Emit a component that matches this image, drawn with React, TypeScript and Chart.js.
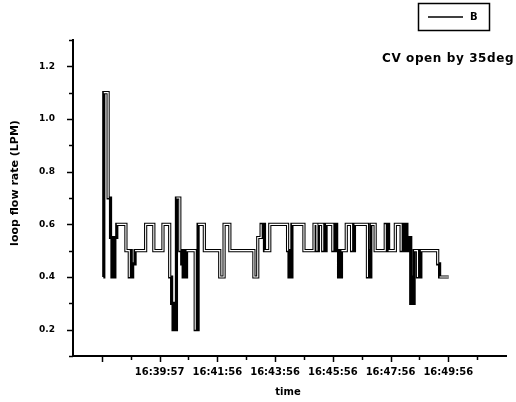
import React, { useEffect, useRef } from "react";
import { Chart, registerables } from "chart.js";

Chart.register(...registerables);

// seconds after 16:36:57 where each step of the flow rate begins
const stepTimes = [
  63, 64, 73, 78, 81, 83, 85, 87, 91, 110,
  117, 119, 121, 124, 129, 151, 168, 187, 201, 205,
  208, 210, 213, 215, 222, 226, 229, 231, 233, 236,
  254, 256, 258, 260, 273, 305, 314, 326, 376, 384,
  391, 393, 395, 398, 409, 446, 449, 451, 453, 455,
  480, 501, 507, 510, 519, 522, 524, 526, 540, 542,
  544, 546, 548, 552, 554, 556, 558, 568, 579, 581,
  583, 585, 612, 615, 617, 619, 628, 649, 652, 654,
  656, 670, 682, 684, 686, 688, 690, 692, 694, 697,
  702, 705, 707, 709, 716, 718, 721, 723, 758, 762,
  781,
];

// loop flow rate (LPM), series "B"
const flowValues = [
  0.4, 1.1, 0.7, 0.55, 0.4, 0.55, 0.4, 0.55, 0.6, 0.5,
  0.4, 0.5, 0.4, 0.45, 0.5, 0.6, 0.5, 0.6, 0.4, 0.3,
  0.2, 0.3, 0.2, 0.7, 0.5, 0.45, 0.4, 0.5, 0.4, 0.5,
  0.2, 0.5, 0.2, 0.6, 0.5, 0.4, 0.6, 0.5, 0.4, 0.55,
  0.6, 0.55, 0.6, 0.5, 0.6, 0.5, 0.4, 0.5, 0.4, 0.6,
  0.5, 0.6, 0.5, 0.6, 0.5, 0.6, 0.5, 0.6, 0.5, 0.6,
  0.5, 0.6, 0.5, 0.4, 0.5, 0.4, 0.5, 0.6, 0.5, 0.6,
  0.5, 0.6, 0.4, 0.5, 0.4, 0.6, 0.5, 0.6, 0.5, 0.6,
  0.5, 0.6, 0.5, 0.6, 0.5, 0.6, 0.5, 0.6, 0.5, 0.55,
  0.3, 0.4, 0.3, 0.5, 0.4, 0.5, 0.4, 0.5, 0.45, 0.4,
  0.4,
];

const xTickSeconds = [180, 300, 420, 540, 660, 780];
const xTickLabels = ["16:39:57", "16:41:56", "16:43:56", "16:45:56", "16:47:56", "16:49:56"];
const yTickLabels = ["0.2", "0.4", "0.6", "0.8", "1.0", "1.2"];

const seriesName = "B";
const xTitle = "time";
const yTitle = "loop flow rate (LPM)";
const noteText = "CV open by 35deg";

const FONT = "'DejaVu Sans', sans-serif";

const decorPlugin = {
  id: "decor",
  afterDraw(chart: any) {
    const ctx = chart.ctx;
    const xs = chart.scales.x;
    const ys = chart.scales.y;
    const area = chart.chartArea;
    ctx.save();
    ctx.strokeStyle = "#000";
    ctx.lineWidth = 1.5;
    // y ticks
    for (let k = 1; k <= 13; k++) {
      const py = Math.round(ys.getPixelForValue(k / 10)) + 0.5;
      const len = k % 2 === 0 ? 6 : 4;
      ctx.beginPath();
      ctx.moveTo(area.left, py);
      ctx.lineTo(area.left - len, py);
      ctx.stroke();
    }
    // x ticks
    for (let t = 60; t < 900; t += 60) {
      const px = Math.round(xs.getPixelForValue(t)) + 0.5;
      const len = (t - 60) % 120 === 0 ? 6 : 4;
      ctx.beginPath();
      ctx.moveTo(px, area.bottom);
      ctx.lineTo(px, area.bottom + len);
      ctx.stroke();
    }
    // legend box
    ctx.lineWidth = 1.5;
    ctx.strokeRect(418.5, 3.5, 71, 27);
    ctx.beginPath();
    ctx.moveTo(428, 17);
    ctx.lineTo(463, 17);
    ctx.stroke();
    ctx.fillStyle = "#000";
    ctx.font = `bold 10px ${FONT}`;
    ctx.textAlign = "left";
    ctx.textBaseline = "middle";
    ctx.fillText(seriesName, 470, 17);
    // note
    ctx.font = `bold 12px ${FONT}`;
    ctx.textBaseline = "alphabetic";
    (ctx as any).letterSpacing = "0.6px";
    ctx.fillText(noteText, 382, 62);
    (ctx as any).letterSpacing = "0px";
    // x title
    ctx.font = `bold 10px ${FONT}`;
    ctx.textAlign = "center";
    ctx.textBaseline = "middle";
    ctx.fillText(xTitle, 288, 392);
    // y title
    ctx.translate(15, 183);
    ctx.rotate(-Math.PI / 2);
    ctx.font = `bold 11px ${FONT}`;
    ctx.fillText(yTitle, 0, 0);
    ctx.restore();
  },
};

export default function App() {
  const ref = useRef<HTMLCanvasElement | null>(null);
  useEffect(() => {
    if (!ref.current) return;
    const points = stepTimes.map((t, i) => ({ x: t, y: flowValues[i] }));
    const chart = new Chart(ref.current, {
      type: "line",
      data: {
        datasets: [
          {
            label: seriesName + "-inner",
            data: points,
            stepped: "before",
            borderColor: "#fff",
            borderWidth: 1.1,
            pointRadius: 0,
            order: 0,
            segment: {
              borderColor: (c: any) =>
                c.p1.x - c.p0.x < 2.5 ? "rgba(255,255,255,0)" : "#fff",
            },
          } as any,
          {
            label: seriesName,
            data: points,
            stepped: "before",
            borderColor: "#000",
            borderWidth: 3.2,
            pointRadius: 0,
            order: 1,
          } as any,
        ],
      },
      options: {
        animation: false,
        responsive: false,
        devicePixelRatio: 1,
        layout: { padding: { top: 40, right: 9, left: 0, bottom: 0 } },
        plugins: { legend: { display: false }, tooltip: { enabled: false } },
        scales: {
          x: {
            type: "linear",
            min: 0,
            max: 900,
            afterFit: (s: any) => {
              s.height = 46;
            },
            grid: { display: true, drawOnChartArea: false, drawTicks: false },
            border: { display: true, color: "#000", width: 2 },
            ticks: {
              stepSize: 60,
              autoSkip: false,
              maxRotation: 0,
              padding: 10,
              color: "#000",
              font: { family: FONT, size: 10, weight: "bold" },
              callback: (v: any) => {
                const i = xTickSeconds.indexOf(Math.round(Number(v)));
                return i >= 0 ? xTickLabels[i] : "";
              },
            },
          },
          y: {
            type: "linear",
            min: 0.1,
            max: 1.3,
            afterFit: (s: any) => {
              s.width = 73;
            },
            grid: { display: true, drawOnChartArea: false, drawTicks: false },
            border: { display: true, color: "#000", width: 2 },
            ticks: {
              stepSize: 0.1,
              autoSkip: false,
              padding: 18,
              color: "#000",
              font: { family: FONT, size: 9, weight: "bold" },
              callback: (v: any) => {
                const k = Math.round(Number(v) * 10);
                return k % 2 === 0 && k >= 2 && k <= 12 ? yTickLabels[k / 2 - 1] : "";
              },
            },
          },
        },
      } as any,
      plugins: [decorPlugin],
    });
    return () => chart.destroy();
  }, []);
  return (
    <div style={{ position: "absolute", left: 0, top: 0, width: 516, height: 402, background: "#fff" }}>
      <canvas ref={ref} width={516} height={402} style={{ display: "block" }} />
    </div>
  );
}
